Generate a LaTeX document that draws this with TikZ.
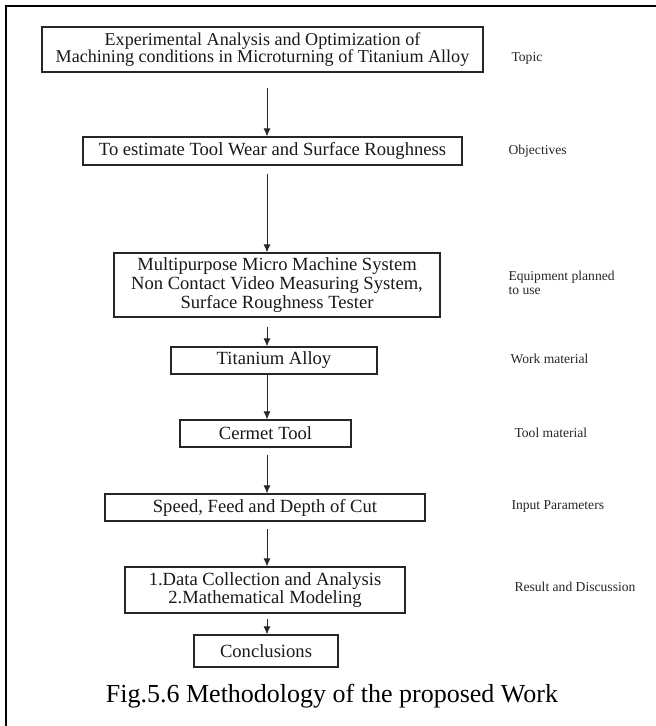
\documentclass[tikz,border=0pt]{standalone}
\usepackage{fontspec}
\setmainfont{Liberation Serif}
\usetikzlibrary{arrows.meta}

\tikzset{
	stage/.style = {draw = black!85, line width = 1.3pt, inner sep = 0pt, align = center, text = black!90, font = \fontsize{18.6}{18.6}\selectfont},
	note/.style = {anchor = west, align = left, text = black!85, font = \fontsize{13.6}{14.5}\selectfont},
	flow/.style = {-{Latex[length = 8pt, width = 7pt]}, line width = 0.9pt, draw = black!85}
}

\begin{document}
\begin{tikzpicture}[x = 1pt, y = -1pt]
	\useasboundingbox (0,0) rectangle (656,726);
	\draw [line width = 2.5pt] (6,726) -- (6,6) -- (656,6);
	\coordinate (ax) at (267,0);
	% steps
	\node [stage, minimum width = 441, minimum height = 45, font = \fontsize{18.1}{17.5}\selectfont] (topic) at (262.5,49.5) {Experimental Analysis and Optimization of\\Machining conditions in Microturning of Titanium Alloy};
	\node [stage, minimum width = 379, minimum height = 28] (aim) at (272.5,151) {To estimate Tool Wear and Surface Roughness};
	\node [stage, minimum width = 326, minimum height = 64] (equip) at (277,285) {Multipurpose Micro Machine System\\Non Contact Video Measuring System,\\Surface Roughness Tester};
	\node [stage, minimum width = 206, minimum height = 27] (work) at (274,360.5) {Titanium Alloy};
	\node [stage, minimum width = 171, minimum height = 27] (tool) at (265.5,433.5) {Cermet Tool};
	\node [stage, minimum width = 320, minimum height = 27] (param) at (265,507.5) {Speed, Feed and Depth of Cut};
	\node [stage, minimum width = 280, minimum height = 46] (result) at (265,590) {1.Data Collection and Analysis\\2.Mathematical Modeling};
	\node [stage, minimum width = 144, minimum height = 32] (concl) at (266,651) {Conclusions};
	% side labels
	\node [note] (ltopic) at (508,58) {Topic};
	\node [note] (laim) at (505,151) {Objectives};
	\node [note] (lequip) at (505,283) {Equipment planned\\to use};
	\node [note] (lwork) at (507,359) {Work material};
	\node [note] (ltool) at (511,433) {Tool material};
	\node [note] (lparam) at (508,506) {Input Parameters};
	\node [note] (lresult) at (511,587) {Result and Discussion};
	% caption
	\node [anchor = base, inner sep = 0pt, font = \fontsize{26}{28}\selectfont] (caption) at (332,702) {Fig.5.6 Methodology of the proposed Work};
	% arrows
	\foreach \a/\b/\g in {topic/aim/15, aim/equip/8, equip/work/9, work/tool/0, tool/param/7, param/result/7, result/concl/5}{
		\draw [flow, shorten <= \g pt] (\a.south -| ax) -- (\b.north -| ax);
	}
\end{tikzpicture}
\end{document}
